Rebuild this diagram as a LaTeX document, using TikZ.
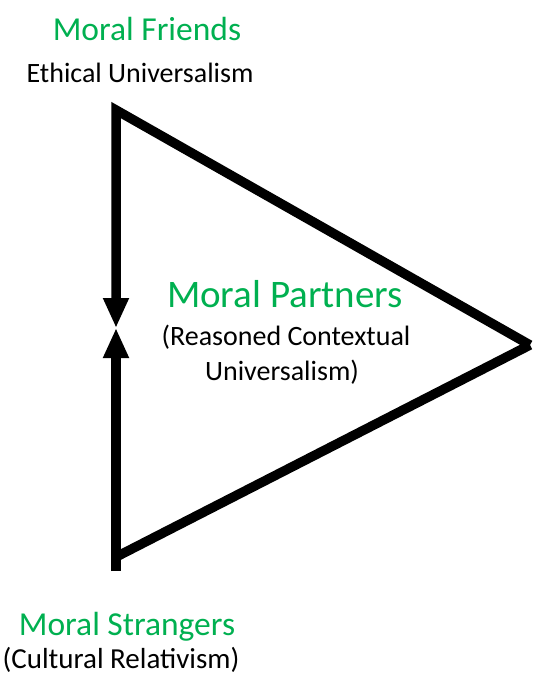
\documentclass[tikz,border=0pt]{standalone}
\usepackage{fontspec}
\setmainfont{Carlito}
\usetikzlibrary{arrows.meta}
\definecolor{mgreen}{RGB}{0,176,80}
\begin{document}
\begin{tikzpicture}[x=1pt,y=-1pt,
  edge/.style={line width=9.5pt,black},
  tip/.style={-{Triangle[width=24pt,length=30pt]}},
  title/.style={anchor=base,inner sep=0pt,text=mgreen},
  sub/.style={anchor=base,inner sep=0pt,text=black}]
\useasboundingbox (0,0) rectangle (541,680);
\coordinate (T) at (116,110);
\coordinate (A) at (530,345);
\coordinate (Bj) at (116,557);
\coordinate (B) at (116,571);
\coordinate (M) at (116,328);
\draw[edge,line join=miter,tip] (A) -- (T) -- (M);
\draw[edge,line join=miter] (A) -- (Bj);
\draw[edge,tip] (B) -- (M);
\node[title,font=\fontsize{33.5}{40}\selectfont] (mf) at (147,40) {Moral Friends};
\node[sub,font=\fontsize{28}{34}\selectfont] (eu) at (140,82) {Ethical Universalism};
\node[title,font=\fontsize{39}{46}\selectfont] (mp) at (285,307) {Moral Partners};
\node[sub,font=\fontsize{28}{34}\selectfont] (rc) at (286,345) {(Reasoned Contextual};
\node[sub,font=\fontsize{28}{34}\selectfont] (un) at (282,380) {Universalism)};
\node[title,font=\fontsize{33.5}{40}\selectfont] (ms) at (127,635) {Moral Strangers};
\node[sub,font=\fontsize{29}{34}\selectfont] (cr) at (121,668) {(Cultural Relativism)};
\end{tikzpicture}
\end{document}
